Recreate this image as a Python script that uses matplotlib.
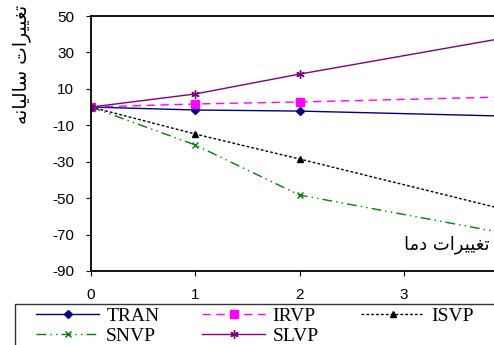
import matplotlib
matplotlib.use("Agg")
import matplotlib.pyplot as plt
from matplotlib.patches import Rectangle

# ---- data ----
x_vals = [0, 1, 2, 4]
tran = [0, -1.6, -2.2, -5.0]
irvp = [0, 1.7, 2.8, 5.6]
isvp = [0, -14.8, -28.5, -56.7]
snvp = [0, -20.8, -48.3, -69.6]
slvp = [0, 7.2, 18.1, 38.3]

x_ticks = [0, 1, 2, 3]
y_ticks = [50, 30, 10, -10, -30, -50, -70, -90]

# Persian text written in presentation forms, visual order (matplotlib has no shaping)
def visual(s):
    return s[::-1]

ylabel_txt = visual("\uFE97\uFED0\uFEF4\uFEF4\uFEAE\uFE8D\uFE95 \uFEB3\uFE8E\uFEDF\uFEF4\uFE8E\uFEE7\uFEEA")
xlabel_txt = visual("\uFE97\uFED0\uFEF4\uFEF4\uFEAE\uFE8D\uFE95 \uFEA9\uFEE3\uFE8E")

plt.rcParams['font.family'] = ['Liberation Sans', 'DejaVu Sans']
plt.rcParams['axes.unicode_minus'] = False

fig = plt.figure(figsize=(4.94, 3.45), dpi=100)
ax = fig.add_axes([91/494, 1 - 271/345, 1 - 91/494 + 0.01, (271 - 16)/345])

l_tran, = ax.plot(x_vals, tran, color='#000080', lw=1.0, marker='D', ms=4, label='TRAN')
l_irvp, = ax.plot(x_vals, irvp, color='#ff00ff', lw=1.0, ls=(0, (6, 4)), marker='s', ms=6, label='IRVP')
l_isvp, = ax.plot(x_vals, isvp, color='black', lw=1.0, ls=(0, (2, 1.5)), marker='^', ms=5, label='ISVP')
l_snvp, = ax.plot(x_vals, snvp, color='#008000', lw=1.0, ls=(0, (7, 3, 1, 3, 1, 3)), marker='x', ms=5, label='SNVP')
l_slvp, = ax.plot(x_vals, slvp, color='#800080', lw=1.0, marker=(6, 2, 0), ms=6, label='SLVP')

ax.set_xlim(0, (494 - 91) / 103)
ax.set_ylim(-90, 50)
ax.set_xticks(x_ticks)
ax.set_yticks(y_ticks)
ax.tick_params(direction='out', length=3.6, pad=8.5, labelsize=11)
for s in ax.spines.values():
    s.set_linewidth(1.3)

fig.text(22/494, 1 - 64/345, ylabel_txt, rotation=90, ha='center', va='center',
         fontsize=13.5, family=['DejaVu Sans'])
fig.text(489/494, 1 - 245/345, xlabel_txt, ha='right', va='center',
         fontsize=13, family=['DejaVu Sans'])

# legend frame (runs off the right and bottom edges like the reference)
fig.patches.append(Rectangle((15/494, -0.05), 1.0, 1 - 304/345 + 0.05,
                             transform=fig.transFigure, fill=False,
                             edgecolor='#333333', lw=1.0))

handles = [l_tran, l_snvp, l_irvp, l_slvp, l_isvp]
leg = fig.legend(handles=handles, labels=[h.get_label() for h in handles], ncol=3,
                 loc='upper left', bbox_to_anchor=(36/494, 1 - 307/345),
                 prop={'family': 'Liberation Serif', 'size': 14},
                 handlelength=3.25, handletextpad=0.36, columnspacing=2.2,
                 labelspacing=0.15, borderpad=0, borderaxespad=0, frameon=False)

fig.savefig('out.png', dpi=100)
